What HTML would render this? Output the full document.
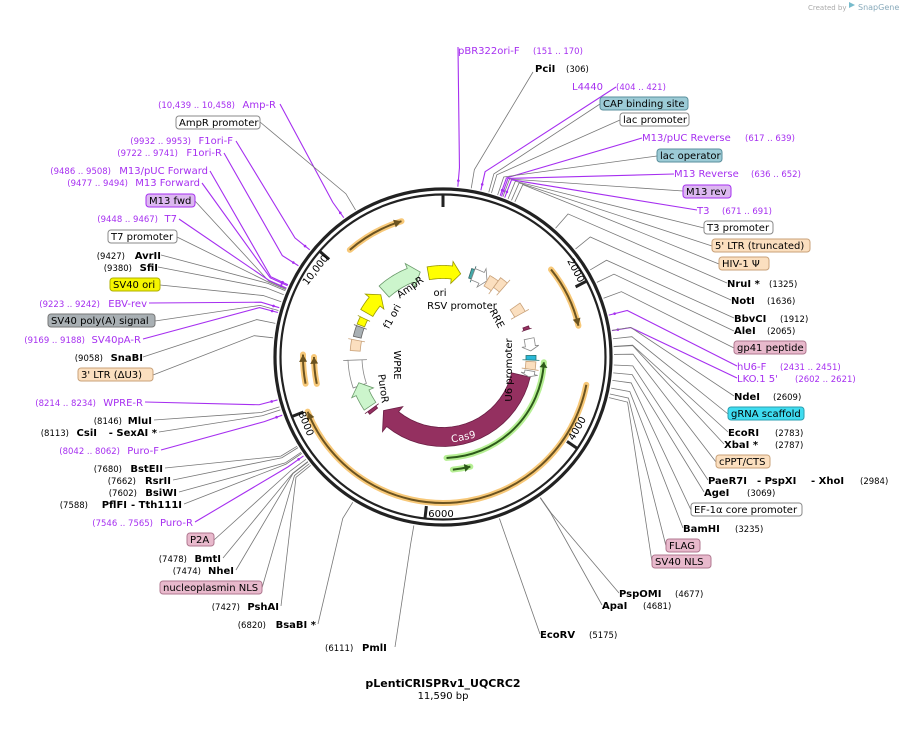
<!DOCTYPE html>
<html><head><meta charset="utf-8">
<style>
html,body{margin:0;padding:0;background:#fff;}
svg{display:block;font-family:"DejaVu Sans","Liberation Sans",sans-serif;}
.n{font-size:10px;fill:#000;}
.b{font-size:10px;font-weight:bold;fill:#000;}
.c{font-size:8.5px;fill:#000;}
.p{font-size:10px;fill:#a62ff0;}
.pc{font-size:8.5px;fill:#a62ff0;}
.f{font-size:10px;fill:#000;}
</style></head>
<body>
<svg id="s" width="906" height="731" viewBox="0 0 906 731" xmlns="http://www.w3.org/2000/svg">
<g id="lines"></g>
<g id="feat"></g>
<circle cx="443" cy="357" r="168" fill="none" stroke="#222" stroke-width="3.2"/>
<circle cx="443" cy="357" r="162.5" fill="none" stroke="#222" stroke-width="2.2"/>
<g id="ticks"></g>

<text x="808" y="10" style="font-size:7px;fill:#aaa">Created by</text>
<text x="858" y="10" style="font-size:8px;fill:#8ab">SnapGene</text>
<path d="M849,2 l6,3 -6,3z" fill="#7bc"/>

<text x="443" y="687" text-anchor="middle" class="b" style="font-size:11px">pLentiCRISPRv1_UQCRC2</text>
<text x="443" y="699" text-anchor="middle" class="n">11,590 bp</text>

<text x="440" y="296" class="f" text-anchor="middle">ori</text>
<text x="462" y="309" class="f" text-anchor="middle">RSV promoter</text>
<g transform="translate(494,320) rotate(62)"><text class="f" text-anchor="middle">RRE</text></g>
<g transform="translate(512,370) rotate(-90)"><text class="f" text-anchor="middle">U6 promoter</text></g>
<g transform="translate(412,290) rotate(-35)"><text class="f" text-anchor="middle">AmpR</text></g>
<g transform="translate(395,318) rotate(-62)"><text class="f" text-anchor="middle">f1 ori</text></g>
<g transform="translate(394,365) rotate(90)"><text class="f" text-anchor="middle">WPRE</text></g>
<g transform="translate(380,389) rotate(82)"><text class="f" text-anchor="middle">PuroR</text></g>
<g transform="translate(464,440) rotate(-12)"><text class="f" text-anchor="middle" style="fill:#fff">Cas9</text></g>

<text x="458" y="54" class="p">pBR322ori-F</text><text x="533" y="54" class="pc">(151 .. 170)</text>
<text x="535" y="72" class="b">PciI</text><text x="566" y="72" class="c">(306)</text>
<text x="572" y="90" class="p">L4440</text><text x="616" y="90" class="pc">(404 .. 421)</text>
<rect x="600" y="97" width="88" height="13" rx="3" fill="#9ccbd6" stroke="#5a8f9c"/><text x="603" y="107" class="n">CAP binding site</text>
<rect x="620" y="113" width="69" height="13" rx="3" fill="#fff" stroke="#888"/><text x="623" y="123" class="n">lac promoter</text>
<text x="642" y="141" class="p">M13/pUC Reverse</text><text x="745" y="141" class="pc">(617 .. 639)</text>
<rect x="657" y="149" width="65" height="13" rx="3" fill="#9ccbd6" stroke="#5a8f9c"/><text x="660" y="159" class="n">lac operator</text>
<text x="674" y="177" class="p">M13 Reverse</text><text x="751" y="177" class="pc">(636 .. 652)</text>
<rect x="683" y="185" width="48" height="13" rx="3" fill="#dcb8f0" stroke="#a62ff0"/><text x="686" y="195" class="n">M13 rev</text>
<text x="697" y="214" class="p">T3</text><text x="722" y="214" class="pc">(671 .. 691)</text>
<rect x="704" y="221" width="69" height="13" rx="3" fill="#fff" stroke="#888"/><text x="707" y="231" class="n">T3 promoter</text>
<rect x="712" y="239" width="98" height="13" rx="3" fill="#fbdfbf" stroke="#c9a27a"/><text x="715" y="249" class="n">5' LTR (truncated)</text>
<rect x="719" y="257" width="50" height="13" rx="3" fill="#fbdfbf" stroke="#c9a27a"/><text x="722" y="267" class="n">HIV-1 Ψ</text>
<text x="727" y="287" class="b">NruI *</text><text x="769" y="287" class="c">(1325)</text>
<text x="731" y="304" class="b">NotI</text><text x="767" y="304" class="c">(1636)</text>
<text x="734" y="322" class="b">BbvCI</text><text x="780" y="322" class="c">(1912)</text>
<text x="734" y="334" class="b">AleI</text><text x="767" y="334" class="c">(2065)</text>
<rect x="734" y="341" width="72" height="13" rx="3" fill="#e8b9cc" stroke="#b07890"/><text x="737" y="351" class="n">gp41 peptide</text>
<text x="737" y="370" class="p">hU6-F</text><text x="780" y="370" class="pc">(2431 .. 2451)</text>
<text x="737" y="382" class="p">LKO.1 5'</text><text x="795" y="382" class="pc">(2602 .. 2621)</text>
<text x="734" y="400" class="b">NdeI</text><text x="773" y="400" class="c">(2609)</text>
<rect x="728" y="407" width="76" height="13" rx="3" fill="#3fdcf0" stroke="#2a9fb0"/><text x="731" y="417" class="n">gRNA scaffold</text>
<text x="728" y="436" class="b">EcoRI</text><text x="775" y="436" class="c">(2783)</text>
<text x="724" y="448" class="b">XbaI *</text><text x="775" y="448" class="c">(2787)</text>
<rect x="716" y="455" width="54" height="13" rx="3" fill="#fbdfbf" stroke="#c9a27a"/><text x="719" y="465" class="n">cPPT/CTS</text>
<text x="708" y="484" class="b">PaeR7I</text><text x="757" y="484" class="b">- PspXI</text><text x="811" y="484" class="b">- XhoI</text><text x="860" y="484" class="c">(2984)</text>
<text x="704" y="496" class="b">AgeI</text><text x="747" y="496" class="c">(3069)</text>
<rect x="691" y="503" width="111" height="13" rx="3" fill="#fff" stroke="#888"/><text x="694" y="513" class="n">EF-1α core promoter</text>
<text x="683" y="532" class="b">BamHI</text><text x="735" y="532" class="c">(3235)</text>
<rect x="666" y="539" width="34" height="13" rx="3" fill="#e8b9cc" stroke="#b07890"/><text x="669" y="549" class="n">FLAG</text>
<rect x="652" y="555" width="59" height="13" rx="3" fill="#e8b9cc" stroke="#b07890"/><text x="655" y="565" class="n">SV40 NLS</text>
<text x="619" y="597" class="b">PspOMI</text><text x="675" y="597" class="c">(4677)</text>
<text x="602" y="609" class="b">ApaI</text><text x="643" y="609" class="c">(4681)</text>
<text x="540" y="638" class="b">EcoRV</text><text x="589" y="638" class="c">(5175)</text>
<text x="325" y="651" class="c">(6111)</text><text x="362" y="651" class="b">PmlI</text>

<g text-anchor="end">
<text x="276" y="108" class="p">Amp-R</text><text x="235" y="108" class="pc">(10,439 .. 10,458)</text>
<text x="233" y="144" class="p">F1ori-F</text><text x="191" y="144" class="pc">(9932 .. 9953)</text>
<text x="222" y="156" class="p">F1ori-R</text><text x="178" y="156" class="pc">(9722 .. 9741)</text>
<text x="208" y="174" class="p">M13/pUC Forward</text><text x="111" y="174" class="pc">(9486 .. 9508)</text>
<text x="200" y="186" class="p">M13 Forward</text><text x="128" y="186" class="pc">(9477 .. 9494)</text>
<text x="177" y="222" class="p">T7</text><text x="158" y="222" class="pc">(9448 .. 9467)</text>
<text x="161" y="259" class="b">AvrII</text><text x="125" y="259" class="c">(9427)</text>
<text x="158" y="271" class="b">SfiI</text><text x="132" y="271" class="c">(9380)</text>
<text x="147" y="307" class="p">EBV-rev</text><text x="100" y="307" class="pc">(9223 .. 9242)</text>
<text x="141" y="343" class="p">SV40pA-R</text><text x="85" y="343" class="pc">(9169 .. 9188)</text>
<text x="143" y="361" class="b">SnaBI</text><text x="103" y="361" class="c">(9058)</text>
<text x="143" y="406" class="p">WPRE-R</text><text x="96" y="406" class="pc">(8214 .. 8234)</text>
<text x="152" y="424" class="b">MluI</text><text x="122" y="424" class="c">(8146)</text>
<text x="157" y="436" class="b">- SexAI *</text><text x="97" y="436" class="b">CsiI</text><text x="69" y="436" class="c">(8113)</text>
<text x="159" y="454" class="p">Puro-F</text><text x="120" y="454" class="pc">(8042 .. 8062)</text>
<text x="163" y="472" class="b">BstEII</text><text x="122" y="472" class="c">(7680)</text>
<text x="171" y="484" class="b">RsrII</text><text x="136" y="484" class="c">(7662)</text>
<text x="177" y="496" class="b">BsiWI</text><text x="137" y="496" class="c">(7602)</text>
<text x="182" y="508" class="b">- Tth111I</text><text x="127" y="508" class="b">PflFI</text><text x="88" y="508" class="c">(7588)</text>
<text x="193" y="526" class="p">Puro-R</text><text x="153" y="526" class="pc">(7546 .. 7565)</text>
<text x="221" y="562" class="b">BmtI</text><text x="187" y="562" class="c">(7478)</text>
<text x="234" y="574" class="b">NheI</text><text x="201" y="574" class="c">(7474)</text>
<text x="279" y="610" class="b">PshAI</text><text x="240" y="610" class="c">(7427)</text>
<text x="316" y="628" class="b">BsaBI *</text><text x="266" y="628" class="c">(6820)</text>
</g>
<rect x="176" y="116" width="84" height="13" rx="3" fill="#fff" stroke="#888"/><text x="179" y="126" class="n">AmpR promoter</text>
<rect x="146" y="194" width="49" height="13" rx="3" fill="#dcb8f0" stroke="#a62ff0"/><text x="149" y="204" class="n">M13 fwd</text>
<rect x="108" y="230" width="69" height="13" rx="3" fill="#fff" stroke="#888"/><text x="111" y="240" class="n">T7 promoter</text>
<rect x="110" y="278" width="50" height="13" rx="3" fill="#f5f500" stroke="#b0b000"/><text x="113" y="288" class="n">SV40 ori</text>
<rect x="48" y="314" width="107" height="13" rx="3" fill="#a9b0b4" stroke="#777"/><text x="51" y="324" class="n">SV40 poly(A) signal</text>
<rect x="78" y="368" width="75" height="13" rx="3" fill="#fbdfbf" stroke="#c9a27a"/><text x="81" y="378" class="n">3' LTR (ΔU3)</text>
<rect x="187" y="533" width="27" height="13" rx="3" fill="#e8b9cc" stroke="#b07890"/><text x="190" y="543" class="n">P2A</text>
<rect x="160" y="581" width="102" height="13" rx="3" fill="#e8b9cc" stroke="#b07890"/><text x="163" y="591" class="n">nucleoplasmin NLS</text>

<g transform="translate(573,272) rotate(62)"><text class="n" text-anchor="middle">2000</text></g>
<g transform="translate(580,430) rotate(-60)"><text class="n" text-anchor="middle">4000</text></g>
<text x="441" y="517" class="n" text-anchor="middle">6000</text>
<g transform="translate(303,425) rotate(68)"><text class="n" text-anchor="middle">8000</text></g>
<g transform="translate(318,272) rotate(-52)"><text class="n" text-anchor="middle">10,000</text></g>
</svg>
<script>
var NS="http://www.w3.org/2000/svg",cx=443,cy=357,L=11590;
function P(a,r){var t=a*Math.PI/180;return [cx+r*Math.sin(t),cy-r*Math.cos(t)];}
function bp(b){return b/L*360;}
function el(g,tag,at){var e=document.createElementNS(NS,tag);for(var k in at)e.setAttribute(k,at[k]);document.getElementById(g).appendChild(e);return e;}
var Ls=[[458,47,160,1],[533,72,306],[616,87,412,1],[600,104,500],[620,120,530],[642,138,628,1],[657,156,600],[674,174,644,1],[683,191,660],[697,210,681,1],[704,228,720],[712,246,760],[719,264,800],[727,283,1325],[731,300,1636],[734,318,1912],[734,331,2065],[734,348,2250],[737,366,2441,1],[737,378,2611,1],[734,396,2609],[728,414,2700],[728,432,2783],[724,444,2787],[716,462,2870],[708,480,2984],[704,492,3069],[691,510,3150],[683,528,3235],[666,546,3300],[652,562,3340],[619,593,4677],[602,605,4681],[540,634,5175],[395,647,6111],
[280,104,10448,1],[260,122,10600],[236,141,9942,1],[224,153,9731,1],[210,171,9497,1],[202,183,9485,1],[195,201,9450],[179,219,9457,1],[177,237,9440],[161,255,9427],[158,267,9380],[160,285,9300],[149,303,9232,1],[155,321,9200],[143,339,9178,1],[143,357,9058],[153,375,8900],[145,402,8224,1],[154,420,8146],[159,432,8113],[161,450,8052,1],[165,468,7680],[173,480,7662],[179,492,7602],[184,504,7588],[195,522,7555,1],[214,540,7510],[223,558,7478],[236,570,7474],[262,588,7450],[281,606,7427],[318,624,6820]];
Ls.forEach(function(l){var a=bp(l[2]);var q=P(a,190),r=P(a,171);
 el("lines","polyline",{points:l[0]+","+l[1]+" "+q[0]+","+q[1]+" "+r[0]+","+r[1],fill:"none",stroke:l[3]?"#a62ff0":"#777","stroke-width":l[3]?1.1:0.8});
 if(l[3]){var s=P(a,177);el("lines","circle",{cx:s[0],cy:s[1],r:1.3,fill:"#a62ff0"});}
});
[0,2000,4000,6000,8000,10000].forEach(function(b){var a=bp(b),p=P(a,163),q=P(a,150);el("ticks","line",{x1:p[0],y1:p[1],x2:q[0],y2:q[1],stroke:"#222","stroke-width":3});});
function arc(a1,a2,r){var p=P(a1,r),q=P(a2,r),lg=Math.abs(a2-a1)>180?1:0,sw=a2>a1?1:0;return "M"+p[0]+","+p[1]+" A"+r+","+r+" 0 "+lg+" "+sw+" "+q[0]+","+q[1];}
function farrow(a1,a2,r,w,fill,stroke,head){
 var d=a2>a1?1:-1,h=head||6,ab=a2-d*h,ro=r+w/2,ri=r-w/2;
 var pts=[],n=20,i,t;
 for(i=0;i<=n;i++){t=a1+(ab-a1)*i/n;pts.push(P(t,ro));}
 pts.push(P(ab,ro+w*0.35));pts.push(P(a2,r));pts.push(P(ab,ri-w*0.35));
 for(i=n;i>=0;i--){t=a1+(ab-a1)*i/n;pts.push(P(t,ri));}
 el("feat","polygon",{points:pts.map(function(p){return p[0]+","+p[1]}).join(" "),fill:fill,stroke:stroke,"stroke-width":0.8});
}
function fbox(a1,a2,r,w,fill,stroke){farrow(a1,a2,r,w,fill,stroke,0.001);}
function oarc(a1,a2,r,halo,col){
 el("feat","path",{d:arc(a1,a2,r),fill:"none",stroke:halo,"stroke-width":6,"stroke-linecap":"round"});
 el("feat","path",{d:arc(a1,a2,r),fill:"none",stroke:col,"stroke-width":2});
 var d=a2>a1?1:-1,t=P(a2,r),b1=P(a2-d*3,r+4),b2=P(a2-d*3,r-4);
 el("feat","polygon",{points:t+" "+b1+" "+b2,fill:col});
}
oarc(-41,-17,142,"#f7c878","#6b5320");
oarc(51,77,139,"#f7c878","#6b5320");
oarc(101,248,146,"#f7c878","#6b5320");
oarc(259,271,140,"#f7c878","#6b5320");
oarc(258,270,129,"#f7c878","#6b5320");
oarc(178,93,101,"#b6ef94","#2d5a1a");
oarc(175,166,113,"#b6ef94","#2d5a1a");
farrow(103,228,80,19,"#943060","#6a1e44",9);
farrow(-10,12,85,13,"#ffff00","#999900",6);
farrow(-42,-15,88,15,"#ccf5cc","#6a9a6a",7);
farrow(-60,-45,88,14,"#ffff00","#999900",6);
fbox(-69,-64,88,8,"#ffff00","#999900");
fbox(-77,-70,88,8,"#a9b0b4","#666");
fbox(-86,-79,88,10,"#fbdfbf","#c9a27a");
fbox(-109,-92,88,14,"#fff","#888");
farrow(236,253,88,14,"#ccf5cc","#6a9a6a",7);
fbox(232,234,88,10,"#943060","#6a1e44");
fbox(18,20,88,10,"#4aa","#366");
farrow(20,30,88,12,"#fff","#888",4);
fbox(30,36,88,12,"#fbdfbf","#c9a27a");
fbox(36,41,92,12,"#fbdfbf","#c9a27a");
fbox(55,61,88,12,"#fbdfbf","#c9a27a");
fbox(70,72,88,6,"#943060","#6a1e44");
farrow(78,86,88,10,"#fff","#888",3);
fbox(89,92,88,10,"#2ab8d8","#277");
fbox(93,98,88,10,"#fbdfbf","#c9a27a");
farrow(99,103,88,10,"#fff","#888",2);
</script>
</body></html>
